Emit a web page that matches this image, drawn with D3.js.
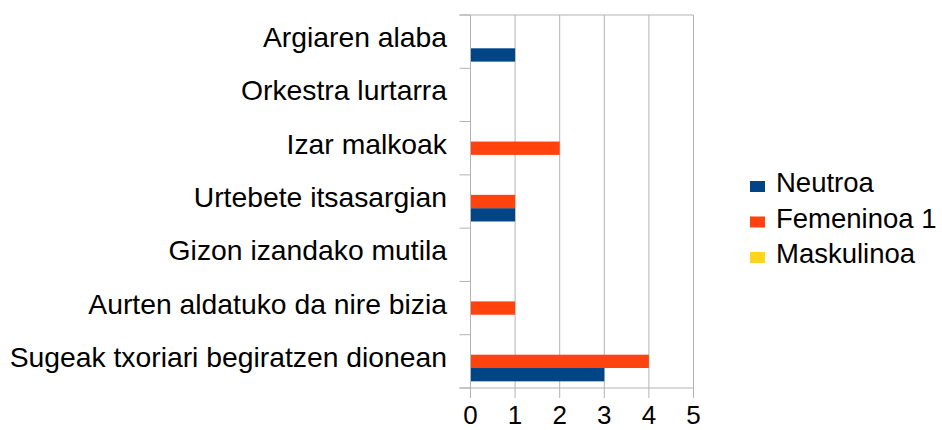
<!DOCTYPE html>
<html>
<head>
<meta charset="utf-8">
<script src="https://cdn.jsdelivr.net/npm/d3@7/dist/d3.min.js"></script>
<style>
  html, body { margin: 0; padding: 0; background: #fff; }
  svg { display: block; font-family: "Liberation Sans", Arial, sans-serif; }
</style>
</head>
<body>
<svg id="chart" width="942" height="430"></svg>
<script>
// Book titles, top to bottom
const categories = [
  "Argiaren alaba",
  "Orkestra lurtarra",
  "Izar malkoak",
  "Urtebete itsasargian",
  "Gizon izandako mutila",
  "Aurten aldatuko da nire bizia",
  "Sugeak txoriari begiratzen dionean"
];
const seriesNames = ["Neutroa", "Femeninoa 1", "Maskulinoa"];
const neutroa     = [1, 0, 0, 1, 0, 0, 3];
const femeninoa   = [0, 0, 2, 1, 0, 1, 4];
const maskulinoa  = [0, 0, 0, 0, 0, 0, 0];
const seriesColors = ["#004586", "#ff420e", "#ffd320"];
const xTicks = [0, 1, 2, 3, 4, 5];

const seriesValues = [neutroa, femeninoa, maskulinoa];

const svg = d3.select("#chart");
const plot = { left: 470.5, right: 693.5, top: 15, bottom: 388 };
const labelSize = 28.3;
const tickSize = 26;
const legendSize = 27.5;

const x = d3.scaleLinear().domain([0, 5]).range([plot.left, plot.right]);
const y0 = d3.scaleBand().domain(categories).range([plot.top, plot.bottom])
  .paddingInner(0.25).paddingOuter(0.125);
// first series sits at the bottom of each group
const y1 = d3.scaleBand().domain(seriesNames.slice().reverse()).range([0, y0.bandwidth()]);

const gridColor = "#b3b3b3";

// vertical grid lines
svg.append("g").selectAll("line").data(xTicks).join("line")
  .attr("x1", d => x(d)).attr("x2", d => x(d))
  .attr("y1", plot.top).attr("y2", plot.bottom)
  .attr("stroke", gridColor).attr("stroke-width", 1);

// top border
svg.append("line")
  .attr("x1", plot.left - 11).attr("x2", plot.right)
  .attr("y1", plot.top).attr("y2", plot.top)
  .attr("stroke", gridColor);

// bars
const step = y0.step();
categories.forEach((cat, i) => {
  seriesNames.forEach((name, s) => {
    const v = seriesValues[s][i];
    if (v <= 0) return;
    svg.append("rect")
      .attr("x", x(0))
      .attr("y", y0(cat) + y1(name))
      .attr("width", x(v) - x(0))
      .attr("height", y1.bandwidth())
      .attr("fill", seriesColors[s]);
  });
});

// left axis with category separators
const yAxisG = svg.append("g");
yAxisG.append("line")
  .attr("x1", plot.left).attr("x2", plot.left)
  .attr("y1", plot.top).attr("y2", plot.bottom)
  .attr("stroke", gridColor);
const bounds = d3.range(categories.length + 1).map(i => plot.top + i * step);
yAxisG.selectAll("line.sep").data(bounds).join("line").attr("class", "sep")
  .attr("x1", plot.left - 11).attr("x2", plot.left)
  .attr("y1", d => d).attr("y2", d => d)
  .attr("stroke", gridColor);
yAxisG.selectAll("text").data(categories).join("text")
  .attr("x", 447)
  .attr("y", d => y0(d) + y0.bandwidth() / 2 + 5.5)
  .attr("text-anchor", "end")
  .attr("font-size", labelSize)
  .attr("fill", "#000")
  .text(d => d);

// bottom axis
const xAxisG = svg.append("g");
xAxisG.append("line")
  .attr("x1", plot.left - 11).attr("x2", plot.right)
  .attr("y1", plot.bottom).attr("y2", plot.bottom)
  .attr("stroke", gridColor);
xAxisG.selectAll("line.tick").data(xTicks).join("line").attr("class", "tick")
  .attr("x1", d => x(d)).attr("x2", d => x(d))
  .attr("y1", plot.bottom).attr("y2", plot.bottom + 10)
  .attr("stroke", gridColor);
xAxisG.selectAll("text").data(xTicks).join("text")
  .attr("x", d => x(d))
  .attr("y", 424)
  .attr("text-anchor", "middle")
  .attr("font-size", tickSize)
  .attr("fill", "#000")
  .text(d => d);

// legend
const legend = svg.append("g");
seriesNames.forEach((name, i) => {
  const base = 192 + i * 35.5;
  legend.append("rect")
    .attr("x", 750).attr("y", base - 11)
    .attr("width", 15).attr("height", 11)
    .attr("fill", seriesColors[i]);
  legend.append("text")
    .attr("x", 776).attr("y", base)
    .attr("font-size", legendSize)
    .attr("fill", "#000")
    .text(name);
});
</script>
</body>
</html>
